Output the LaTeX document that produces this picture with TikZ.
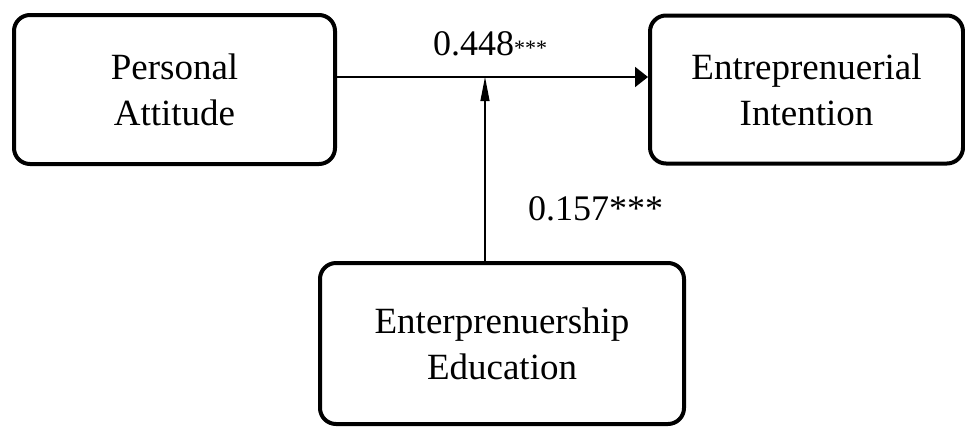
\documentclass[tikz,border=0pt]{standalone}
\usepackage{fontspec}
\setmainfont{Liberation Serif}
\usetikzlibrary{arrows.meta}

\begin{document}
\begin{tikzpicture}[x=1pt,y=1pt,
  box/.style={draw, line width=4pt, rounded corners=16pt, align=center,
    font=\fontsize{37}{46}\selectfont, inner sep=0pt},
  coef/.style={font=\fontsize{36}{40}\selectfont, inner sep=0pt},
  mainpath/.style={line width=2pt, -{Triangle[length=13pt,width=20pt]}},
  modpath/.style={line width=1.1pt, -{Triangle[length=24pt,width=9pt]}}]

  \useasboundingbox (0,0) rectangle (965,-429);

  % constructs
  \node[box, minimum width=321pt, minimum height=149pt] (pa) at (174.5,-89.5)
    {Personal\\Attitude};
  \node[box, minimum width=313pt, minimum height=148pt] (ei) at (806.5,-89.5)
    {Entreprenuerial\\Intention};
  \node[box, minimum width=364pt, minimum height=161pt] (ee) at (502,-343.5)
    {Enterprenuership\\Education};

  % direct effect and moderating path
  \coordinate (hy) at (0,-77);
  \coordinate (jn) at (485,-77);
  \draw[mainpath] (pa.east |- hy) -- (ei.west |- hy);
  \draw[modpath] (ee.north -| jn) -- (jn);

  % path coefficients
  \node[coef, anchor=base west] (c1) at (433,-55)
    {0.448{\fontsize{22}{22}\selectfont***}};
  \node[coef, anchor=base west] (c2) at (528,-220) {0.157***};
\end{tikzpicture}
\end{document}
